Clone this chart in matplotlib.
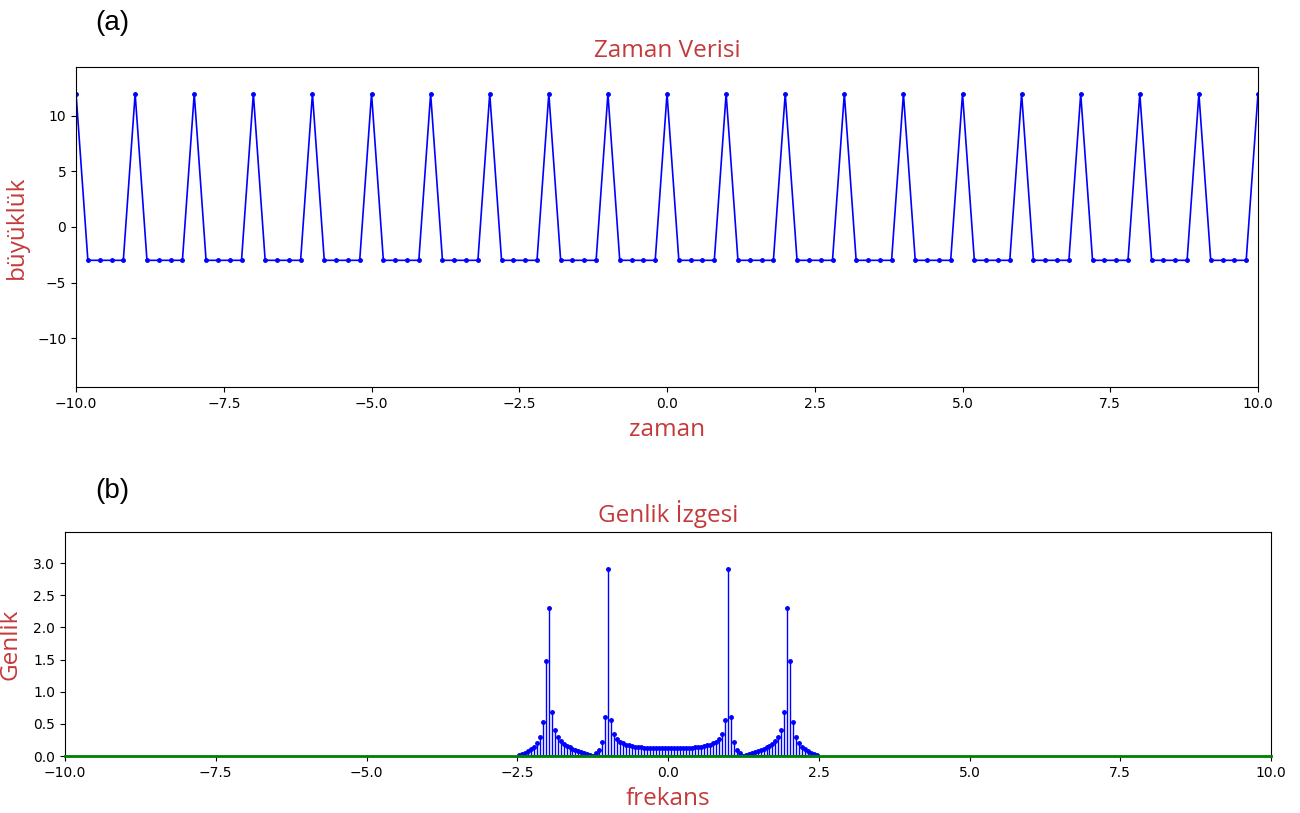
import numpy as np
import matplotlib.pyplot as plt

# --- Data ---
# time signal: 101 samples from -10 to 10, one spike of 12 per second, -3 elsewhere
zaman = np.linspace(-10, 10, 101)
buyukluk = [12, -3, -3, -3, -3] * 20 + [12]

# amplitude spectrum (fftshift order), 101 bins from -2.475 to 2.475
frekans = np.linspace(-2.475, 2.475, 101)
genlik = [
    0.0093, 0.0284, 0.0492, 0.0733, 0.1031, 0.1431, 0.2023, 0.3033, 0.5252, 1.4739,
    2.3033, 0.6797, 0.4063, 0.2921, 0.2283, 0.1867, 0.1568, 0.1337, 0.1147, 0.0982,
    0.0830, 0.0683, 0.0532, 0.0368, 0.0176, 0.0068, 0.0413, 0.0973, 0.2115, 0.6037,
    2.9023, 0.5616, 0.3473, 0.2661, 0.2230, 0.1962, 0.1779, 0.1646, 0.1546, 0.1470,
    0.1409, 0.1358, 0.1316, 0.1283, 0.1255, 0.1234, 0.1217, 0.1204, 0.1195, 0.1190,
    0.1188,
    0.1190, 0.1195, 0.1204, 0.1217, 0.1234, 0.1255, 0.1283, 0.1316, 0.1358, 0.1409,
    0.1470, 0.1546, 0.1646, 0.1779, 0.1962, 0.2230, 0.2661, 0.3473, 0.5616, 2.9023,
    0.6037, 0.2115, 0.0973, 0.0413, 0.0068, 0.0176, 0.0368, 0.0532, 0.0683, 0.0830,
    0.0982, 0.1147, 0.1337, 0.1568, 0.1867, 0.2283, 0.2921, 0.4063, 0.6797, 2.3033,
    1.4739, 0.5252, 0.3033, 0.2023, 0.1431, 0.1031, 0.0733, 0.0492, 0.0284, 0.0093,
]

LABEL_COLOR = "#c43a3a"
LABEL_FONT = ["Open Sans", "DejaVu Sans"]
LABEL_SIZE = 17.5

fig = plt.figure(figsize=(13, 8.13), dpi=100)

# --- (a) time data ---
ax1 = fig.add_axes([0.0585, 0.524, 0.9092, 0.3936])
ax1.plot(zaman, buyukluk, "b.-", linewidth=1.2, markersize=5)
ax1.set_xlim(-10, 10)
ax1.set_ylim(-1.2 * max(buyukluk), 1.2 * max(buyukluk))
ax1.set_title("Zaman Verisi", color=LABEL_COLOR, fontsize=LABEL_SIZE, family=LABEL_FONT, pad=7)
ax1.set_xlabel("zaman", color=LABEL_COLOR, fontsize=LABEL_SIZE, family=LABEL_FONT, labelpad=5)
ax1.set_ylabel("büyüklük", color=LABEL_COLOR, fontsize=LABEL_SIZE, family=LABEL_FONT)
ax1.yaxis.set_label_coords(-0.04, 0.5)
fig.text(0.073, 0.988, "(a)", fontsize=20, family="Liberation Sans", va="top")

# --- (b) amplitude spectrum ---
ax2 = fig.add_axes([0.05, 0.0701, 0.9277, 0.2755])
markers, stems, base = ax2.stem(frekans, genlik, linefmt="b-", markerfmt="b.", basefmt="g-")
plt.setp(stems, linewidth=1.0)
plt.setp(markers, markersize=5)
ax2.axhline(0, color="g", linewidth=2, zorder=3, clip_on=False)
ax2.set_xlim(-10, 10)
ax2.set_ylim(0, 1.2 * max(genlik))
ax2.set_xticks([-10, -7.5, -5, -2.5, 0, 2.5, 5, 7.5, 10])
ax2.set_title("Genlik İzgesi", color=LABEL_COLOR, fontsize=LABEL_SIZE, family=LABEL_FONT, pad=7)
ax2.set_xlabel("frekans", color=LABEL_COLOR, fontsize=LABEL_SIZE, family=LABEL_FONT, labelpad=5)
ax2.set_ylabel("Genlik", color=LABEL_COLOR, fontsize=LABEL_SIZE, family=LABEL_FONT)
ax2.yaxis.set_label_coords(-0.035, 0.5)
fig.text(0.073, 0.412, "(b)", fontsize=20, family="Liberation Sans", va="top")

fig.savefig("out.png", dpi=100)
